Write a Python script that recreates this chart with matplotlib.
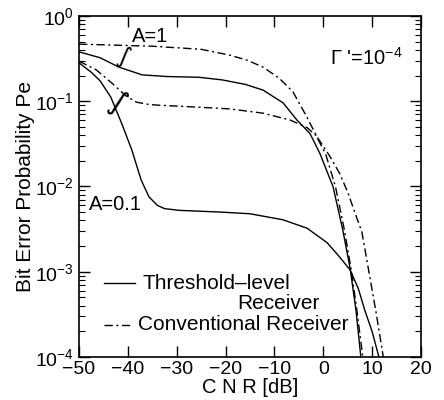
import numpy as np
import matplotlib
matplotlib.use("Agg")
import matplotlib.pyplot as plt
from matplotlib.lines import Line2D
from matplotlib.ticker import LogLocator, FixedLocator

############################## DATA ##############################
# CNR [dB] and bit error probability
cnr_conv_a1 = [-50, -35, -25, -19.1, -15.5, -12.3, -9, -6.2, -3.4, -1.35, 1.4, 3.4,
               5.1, 6.5, 7.9, 9.2, 10.8, 12.3, 13]
pe_conv_a1 = [0.468, 0.442, 0.407, 0.347, 0.302, 0.251, 0.186, 0.129, 0.0661, 0.0389,
              0.0224, 0.0141, 0.00832, 0.0049, 0.00295, 0.00112, 3.39e-4, 1.0e-4, 5.6e-5]

cnr_thr_a1 = [-50, -45.7, -41.8, -37.1, -32, -25.4, -20.7, -16, -12.3, -8.2, -5.4, -2.7,
              -0.7, 2.0, 4.0, 5.5, 6.7, 7.7, 7.9]
pe_thr_a1 = [0.380, 0.324, 0.251, 0.204, 0.195, 0.191, 0.178, 0.158, 0.135, 0.0955,
             0.0603, 0.0417, 0.0245, 0.0100, 0.00309, 0.00110, 3.55e-4, 1.0e-4, 6.3e-5]

cnr_conv_a01 = [-50, -46.5, -43.2, -40.5, -38.3, -36, -34.2, -25.4, -19.1, -12.3, -6.8,
                -3.3, -1.5, 0.5, 2.5, 4.3, 5.8, 7.0, 8.1, 8.4]
pe_conv_a01 = [0.295, 0.234, 0.162, 0.117, 0.0977, 0.0923, 0.0902, 0.0851, 0.0813,
               0.0724, 0.0603, 0.049, 0.0398, 0.024, 0.0100, 0.00316, 0.00100, 3.16e-4,
               1.0e-4, 7.1e-5]

cnr_thr_a01 = [-50, -47.5, -45.7, -43.5, -41.2, -39.2, -37.3, -35.7, -34, -32.5, -29.5,
               -21, -15, -8.25, -3.3, 0.8, 3.4, 5.5, 7.2, 8.5, 10, 11.4, 11.8]
pe_thr_a01 = [0.282, 0.219, 0.174, 0.112, 0.0537, 0.0269, 0.0120, 0.00759, 0.00603,
              0.0055, 0.00525, 0.00501, 0.00479, 0.00407, 0.00324, 0.00219, 0.00148,
              0.00105, 6.3e-4, 3.55e-4, 2.0e-4, 1.0e-4, 7.1e-5]

x_ticks = [-50, -40, -30, -20, -10, 0, 10, 20]
################################ FIN ################################

plt.rcParams['font.family'] = ['Liberation Sans', 'DejaVu Sans']
plt.rcParams['mathtext.fontset'] = 'custom'
plt.rcParams['mathtext.rm'] = 'Liberation Sans'
plt.rcParams['mathtext.it'] = 'Liberation Sans:italic'

fig = plt.figure(figsize=(4.44, 4.0), dpi=100)
ax = fig.add_axes([0.178, 0.1075, 0.770, 0.8525])

dashdot = (0, (6, 2.5, 1.5, 2.5))
lw = 1.0
ax.semilogy(cnr_conv_a1, pe_conv_a1, color='black', lw=lw, linestyle=dashdot)
ax.semilogy(cnr_thr_a1, pe_thr_a1, color='black', lw=lw)
ax.semilogy(cnr_conv_a01, pe_conv_a01, color='black', lw=lw, linestyle=dashdot)
ax.semilogy(cnr_thr_a01, pe_thr_a01, color='black', lw=lw)

ax.set_xlim(-50, 20)
ax.set_ylim(1e-4, 1)
ax.xaxis.set_major_locator(FixedLocator(x_ticks))
ax.yaxis.set_major_locator(LogLocator(base=10, numticks=10))
ax.yaxis.set_minor_locator(LogLocator(base=10, subs=np.arange(2, 10), numticks=20))
ax.tick_params(which='both', direction='in', top=True, right=True, labelsize=14)
ax.tick_params(which='major', length=8, width=1.0)
ax.tick_params(which='minor', length=4, width=0.8)
ax.tick_params(axis='x', pad=3)
ax.tick_params(axis='y', pad=4)
for s in ax.spines.values():
    s.set_linewidth(1.2)

ax.set_xlabel('C N R [dB]', fontsize=14.5, labelpad=0)
ax.set_ylabel('Bit Error Probability Pe', fontsize=15, labelpad=0)

## Annotations
ax.text(-39.2, 0.495, 'A=1', fontsize=14.5, ha='left', va='baseline')
ax.text(-47.9, 0.0053, 'A=0.1', fontsize=14.5, ha='left', va='baseline')
ax.text(1.4, 0.266, '\u0393 \'=10$^{-4}$', fontsize=14.5, ha='left', va='baseline')
ax.text(-41.0, 0.33, '\u222b', fontsize=17, family='DejaVu Sans', ha='center',
        va='center', rotation=-20)
ax.text(-42.2, 0.095, '\u222b', fontsize=21, family='DejaVu Sans', ha='center',
        va='center', rotation=-30)

## Legend drawn by hand
tr = ax.transAxes
ax.add_line(Line2D([0.073, 0.164], [0.217, 0.217], transform=tr, color='black', lw=lw))
ax.add_line(Line2D([0.073, 0.158], [0.094, 0.094], transform=tr, color='black', lw=lw,
                   linestyle=dashdot))
ax.text(0.187, 0.217, 'Threshold\u2013level', transform=tr, fontsize=15, ha='left', va='center')
ax.text(0.462, 0.158, 'Receiver', transform=tr, fontsize=15, ha='left', va='center')
ax.text(0.172, 0.094, 'Conventional Receiver', transform=tr, fontsize=15, ha='left', va='center')

fig.savefig('out.png', dpi=100)
